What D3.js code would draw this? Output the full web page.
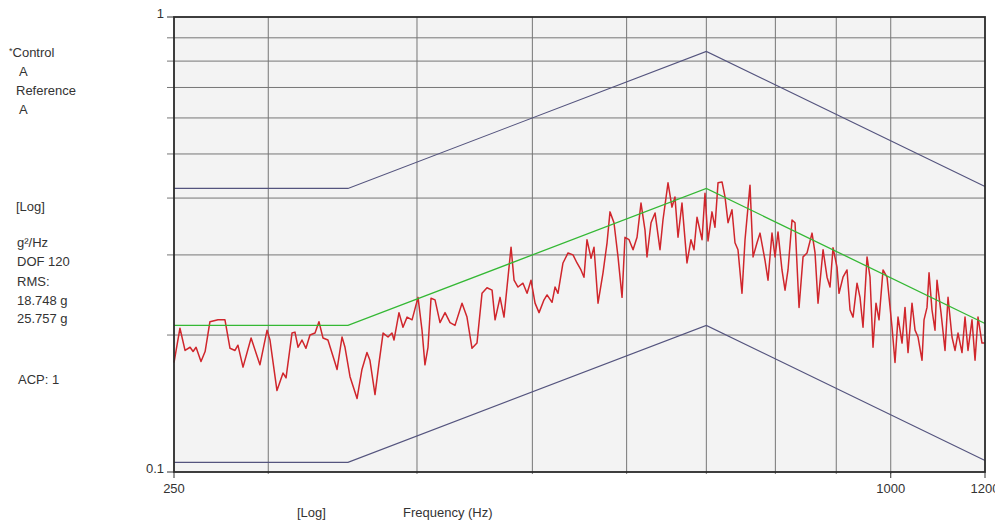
<!DOCTYPE html>
<html>
<head>
<meta charset="utf-8">
<script src="https://cdn.jsdelivr.net/npm/d3@7"></script>
<style>
  body { margin: 0; background: #fff; }
  svg text { font-family: "Liberation Sans", Arial, sans-serif; fill: #333; }
</style>
</head>
<body>
<svg id="chart" width="995" height="523"></svg>
<script>
// control spectrum (Hz, g^2/Hz)
var ctrlFreq = [250.0, 252.9, 255.4, 257.9, 259.4, 260.9, 263.4, 265.5, 268.0, 272.2, 275.9, 278.6, 281.3, 282.9, 285.7, 290.2, 295.2, 299.3, 301.0, 305.1,
  308.7, 310.5, 314.1, 315.9, 317.8, 320.2, 322.7, 325.2, 328.4, 330.9, 333.5, 336.7, 341.3, 342.7, 346.0, 348.0, 351.4, 356.2, 359.6, 363.1,
  365.2, 368.8, 371.7, 374.6, 378.2, 381.1, 382.6, 386.3, 389.3, 392.4, 396.2, 400.8, 403.9, 406.2, 408.6, 411.0, 414.2, 418.2, 422.3, 426.4,
  430.5, 436.4, 440.6, 444.9, 449.2, 453.6, 458.0, 462.5, 465.2, 469.7, 473.3, 479.8, 482.6, 486.3, 491.0, 494.9, 498.7, 502.6, 506.5, 511.4,
  514.4, 519.4, 522.4, 525.4, 530.5, 535.7, 540.9, 545.1, 549.3, 552.5, 555.7, 560.1, 563.3, 567.7, 573.2, 577.7, 581.0, 585.5, 590.1, 594.7,
  598.1, 602.8, 607.5, 612.2, 616.9, 621.7, 624.1, 629.0, 633.9, 640.0, 643.7, 650.0, 655.0, 658.8, 662.7, 667.8, 674.3, 679.5, 683.5, 687.5,
  694.2, 698.2, 702.3, 707.7, 711.8, 716.0, 721.6, 725.8, 730.0, 735.6, 739.9, 744.2, 750.0, 754.4, 761.7, 766.2, 772.1, 776.6, 784.1, 788.7,
  794.8, 799.5, 804.1, 810.3, 815.1, 819.8, 826.2, 831.0, 837.5, 844.0, 850.5, 858.8, 863.8, 868.8, 877.3, 884.1, 889.2, 894.4, 901.3, 904.8,
  911.8, 918.9, 924.3, 929.7, 936.9, 942.3, 947.8, 955.2, 960.7, 966.3, 971.9, 977.6, 985.2, 992.9, 1002.5, 1008.3, 1014.2, 1022.1, 1028.0, 1034.0,
  1042.0, 1048.1, 1054.2, 1062.4, 1066.5, 1072.7, 1076.9, 1083.1, 1089.4, 1093.6, 1102.1, 1110.7, 1117.2, 1125.8, 1132.4, 1139.0, 1147.8, 1154.5, 1161.2, 1170.2,
  1177.1, 1183.9, 1193.0, 1200.0]
var ctrlPsd = [0.174, 0.207, 0.185, 0.188, 0.184, 0.188, 0.175, 0.184, 0.214, 0.216, 0.216, 0.187, 0.185, 0.190, 0.170, 0.197, 0.172, 0.205, 0.195, 0.151,
  0.165, 0.161, 0.202, 0.203, 0.188, 0.195, 0.187, 0.200, 0.202, 0.214, 0.197, 0.195, 0.174, 0.168, 0.198, 0.188, 0.162, 0.145, 0.168, 0.183,
  0.176, 0.148, 0.174, 0.202, 0.198, 0.202, 0.195, 0.224, 0.208, 0.219, 0.216, 0.242, 0.205, 0.172, 0.188, 0.241, 0.239, 0.213, 0.224, 0.213,
  0.210, 0.235, 0.219, 0.187, 0.192, 0.247, 0.254, 0.251, 0.216, 0.242, 0.219, 0.312, 0.264, 0.255, 0.260, 0.247, 0.264, 0.235, 0.224, 0.239,
  0.245, 0.236, 0.255, 0.247, 0.288, 0.303, 0.300, 0.288, 0.278, 0.268, 0.324, 0.295, 0.312, 0.235, 0.274, 0.319, 0.373, 0.353, 0.297, 0.242,
  0.328, 0.324, 0.308, 0.328, 0.390, 0.340, 0.297, 0.353, 0.371, 0.308, 0.358, 0.432, 0.382, 0.402, 0.328, 0.390, 0.288, 0.324, 0.308, 0.363,
  0.324, 0.410, 0.322, 0.373, 0.345, 0.432, 0.434, 0.402, 0.353, 0.377, 0.319, 0.308, 0.247, 0.324, 0.427, 0.297, 0.319, 0.335, 0.292, 0.264,
  0.335, 0.297, 0.337, 0.278, 0.251, 0.278, 0.358, 0.353, 0.230, 0.297, 0.303, 0.335, 0.303, 0.235, 0.308, 0.268, 0.255, 0.311, 0.282, 0.247,
  0.268, 0.278, 0.227, 0.219, 0.260, 0.242, 0.208, 0.297, 0.268, 0.188, 0.235, 0.216, 0.278, 0.268, 0.208, 0.174, 0.219, 0.192, 0.230, 0.183,
  0.235, 0.205, 0.198, 0.176, 0.216, 0.230, 0.274, 0.227, 0.205, 0.264, 0.224, 0.185, 0.242, 0.198, 0.185, 0.202, 0.183, 0.219, 0.185, 0.216,
  0.176, 0.219, 0.192, 0.192]

// reference profile and abort limits
var profFreq = [250, 350, 700, 1200]
var refPsd = [0.21, 0.21, 0.42, 0.212]
var upperPsd = [0.42, 0.42, 0.84, 0.424]
var lowerPsd = [0.105, 0.105, 0.21, 0.106]

var xGrid = [300, 400, 500, 600, 700, 800, 900, 1000]
var yGrid = [0.2, 0.3, 0.4, 0.5, 0.6, 0.7, 0.8, 0.9]
var xTicks = [250, 1000, 1200]
var xTickLabels = ['250', '1000', '1200']
var yTicks = [0.1, 1]
var yTickLabels = ['0.1', '1']

var infoLines = ['A', 'Reference', 'A', '[Log]', 'g\u00b2/Hz', 'DOF 120', 'RMS:', '18.748 g', '25.757 g', 'ACP: 1']

var svg = d3.select('#chart')
var pLeft = 174, pRight = 985, pTop = 17, pBottom = 472

var x = d3.scaleLog().domain([250, 1200]).range([pLeft, pRight])
var y = d3.scaleLog().domain([0.1, 1]).range([pBottom, pTop])

svg.append('rect')
    .attr('x', pLeft).attr('y', pTop)
    .attr('width', pRight - pLeft).attr('height', pBottom - pTop)
    .attr('fill', '#f3f3f3')

// grid
svg.selectAll('.vgrid')
    .data(xGrid)
    .enter()
    .append('line')
    .attr('x1', function(d){ return x(d) })
    .attr('x2', function(d){ return x(d) })
    .attr('y1', pTop)
    .attr('y2', pBottom + 2)
    .attr('stroke', '#767676')
    .attr('stroke-width', 1)

svg.selectAll('.hgrid')
    .data(yGrid)
    .enter()
    .append('line')
    .attr('x1', pLeft - 7)
    .attr('x2', pRight)
    .attr('y1', function(d){ return y(d) })
    .attr('y2', function(d){ return y(d) })
    .attr('stroke', '#767676')
    .attr('stroke-width', 1)

function series(vals) {
    return profFreq.map(function(f, i){ return [f, vals[i]] })
}

var line = d3.line()
    .x(function(d){ return x(d[0]) })
    .y(function(d){ return y(d[1]) })

svg.append('path')
    .attr('d', line(series(upperPsd)))
    .attr('fill', 'none').attr('stroke', '#54547e').attr('stroke-width', 1.1)
svg.append('path')
    .attr('d', line(series(lowerPsd)))
    .attr('fill', 'none').attr('stroke', '#54547e').attr('stroke-width', 1.1)

svg.append('path')
    .attr('d', line(ctrlFreq.map(function(f, i){ return [f, ctrlPsd[i]] })))
    .attr('fill', 'none').attr('stroke', '#d0262c').attr('stroke-width', 1.5)
    .attr('stroke-linejoin', 'round')

svg.append('path')
    .attr('d', line(series(refPsd)))
    .attr('fill', 'none').attr('stroke', '#34b834').attr('stroke-width', 1.3)

// frame
svg.append('rect')
    .attr('x', pLeft).attr('y', pTop)
    .attr('width', pRight - pLeft).attr('height', pBottom - pTop)
    .attr('fill', 'none').attr('stroke', '#2a2a2a').attr('stroke-width', 1.8)

// y ticks
svg.selectAll('.ytick')
    .data(yTicks)
    .enter()
    .append('line')
    .attr('x1', pLeft - 7).attr('x2', pLeft)
    .attr('y1', function(d){ return y(d) })
    .attr('y2', function(d){ return y(d) })
    .attr('stroke', '#333')
svg.selectAll('.ylab')
    .data(yTicks)
    .enter()
    .append('text')
    .attr('x', pLeft - 10)
    .attr('y', function(d){ return y(d) + 1 })
    .attr('text-anchor', 'end')
    .attr('font-size', 13)
    .text(function(d, i){ return yTickLabels[i] })

// x ticks
svg.selectAll('.xtick')
    .data(xTicks)
    .enter()
    .append('line')
    .attr('x1', function(d){ return x(d) })
    .attr('x2', function(d){ return x(d) })
    .attr('y1', pBottom).attr('y2', pBottom + 6)
    .attr('stroke', '#333')
svg.selectAll('.xlab')
    .data(xTicks)
    .enter()
    .append('text')
    .attr('x', function(d){ return x(d) })
    .attr('y', pBottom + 21)
    .attr('text-anchor', 'middle')
    .attr('font-size', 13)
    .text(function(d, i){ return xTickLabels[i] })

svg.append('text').attr('x', 297).attr('y', 517).attr('font-size', 13).text('[Log]')
svg.append('text').attr('x', 403).attr('y', 517).attr('font-size', 13).text('Frequency (Hz)')

// left info panel
var ctl = svg.append('text').attr('x', 9).attr('y', 57).attr('font-size', 13)
ctl.append('tspan').attr('font-size', 9).attr('dy', -3).text('*')
ctl.append('tspan').attr('dy', 3).text('Control')

var infoX = [19, 16, 19, 16, 17, 17, 17, 17, 17, 18]
var infoY = [76, 95, 114, 211, 247, 266, 286, 305, 323, 384]
svg.selectAll('.info')
    .data(infoLines)
    .enter()
    .append('text')
    .attr('x', function(d, i){ return infoX[i] })
    .attr('y', function(d, i){ return infoY[i] })
    .attr('font-size', 13)
    .text(function(d){ return d })
</script>
</body>
</html>
